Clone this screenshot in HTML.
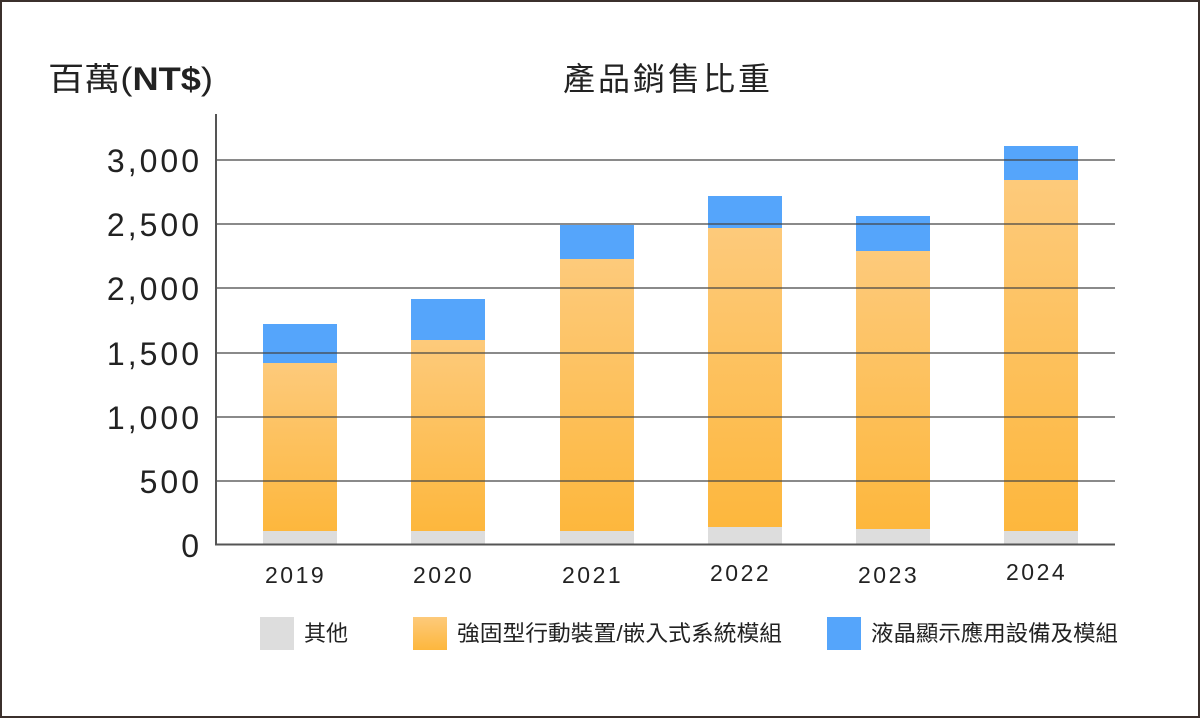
<!DOCTYPE html>
<html><head><meta charset="utf-8"><style>
body{margin:0;width:1200px;height:718px;overflow:hidden;background:#fff}
</style></head><body>
<svg width="1200" height="718" xmlns="http://www.w3.org/2000/svg" font-family="'Liberation Sans','Noto Sans CJK TC',sans-serif">
<defs><linearGradient id="og" x1="0" y1="0" x2="0" y2="1"><stop offset="0" stop-color="#fdca7b"/><stop offset="1" stop-color="#fdb73d"/></linearGradient></defs>
<rect x="1" y="1" width="1198" height="716" fill="#fff" stroke="#3b302c" stroke-width="2"/>
<text x="48" y="90" font-size="32" fill="#222" textLength="165" lengthAdjust="spacingAndGlyphs">百萬(<tspan font-weight="bold">NT$</tspan>)</text>
<text x="563" y="90" font-size="32" fill="#222" textLength="207" lengthAdjust="spacing">產品銷售比重</text>
<g stroke="#444" stroke-width="1.3">
</g>
<g fill="#ddd">
<rect x="263" y="531" width="74" height="13"/><rect x="411" y="531" width="74" height="13"/><rect x="560" y="531" width="74" height="13"/><rect x="708" y="527" width="74" height="17"/><rect x="856" y="529" width="74" height="15"/><rect x="1004" y="531" width="74" height="13"/>
</g>
<g fill="url(#og)">
<rect x="263" y="363" width="74" height="168"/><rect x="411" y="340" width="74" height="191"/><rect x="560" y="259" width="74" height="272"/><rect x="708" y="228" width="74" height="299"/><rect x="856" y="251" width="74" height="278"/><rect x="1004" y="180" width="74" height="351"/>
</g>
<g fill="#55a5fb">
<rect x="263" y="324" width="74" height="39"/><rect x="411" y="299" width="74" height="41"/><rect x="560" y="225" width="74" height="34"/><rect x="708" y="196" width="74" height="32"/><rect x="856" y="216" width="74" height="35"/><rect x="1004" y="146" width="74" height="34"/>
</g>
<g stroke="#444" stroke-width="1.3">
<line x1="216" y1="160" x2="1115" y2="160"/><line x1="216" y1="224" x2="1115" y2="224"/><line x1="216" y1="288" x2="1115" y2="288"/><line x1="216" y1="353" x2="1115" y2="353"/><line x1="216" y1="417" x2="1115" y2="417"/><line x1="216" y1="481" x2="1115" y2="481"/>
</g>
<g stroke="#555" stroke-width="2"><line x1="216" y1="114" x2="216" y2="545"/><line x1="215" y1="544.5" x2="1115" y2="544.5"/></g>
<g font-size="32" fill="#222" text-anchor="end" letter-spacing="3">
<text x="202" y="172">3,000</text><text x="202" y="236">2,500</text><text x="202" y="300">2,000</text><text x="202" y="365">1,500</text><text x="202" y="429">1,000</text><text x="202" y="493">500</text><text x="202" y="557">0</text>
</g>
<g font-size="23" fill="#222" letter-spacing="2.5">
<text x="265" y="583">2019</text><text x="413" y="583">2020</text><text x="562" y="583">2021</text><text x="710" y="581">2022</text><text x="858" y="583">2023</text><text x="1006" y="580">2024</text>
</g>
<rect x="260" y="617" width="34" height="33" fill="#ddd"/>
<rect x="413" y="617" width="34" height="33" fill="url(#og)"/>
<rect x="827" y="617" width="34" height="33" fill="#55a5fb"/>
<g font-size="22" fill="#222">
<text x="304" y="641">其他</text><text x="457" y="641" textLength="325" lengthAdjust="spacingAndGlyphs">強固型行動裝置/嵌入式系統模組</text><text x="871" y="641" textLength="247" lengthAdjust="spacingAndGlyphs">液晶顯示應用設備及模組</text>
</g>
</svg>
</body></html>
